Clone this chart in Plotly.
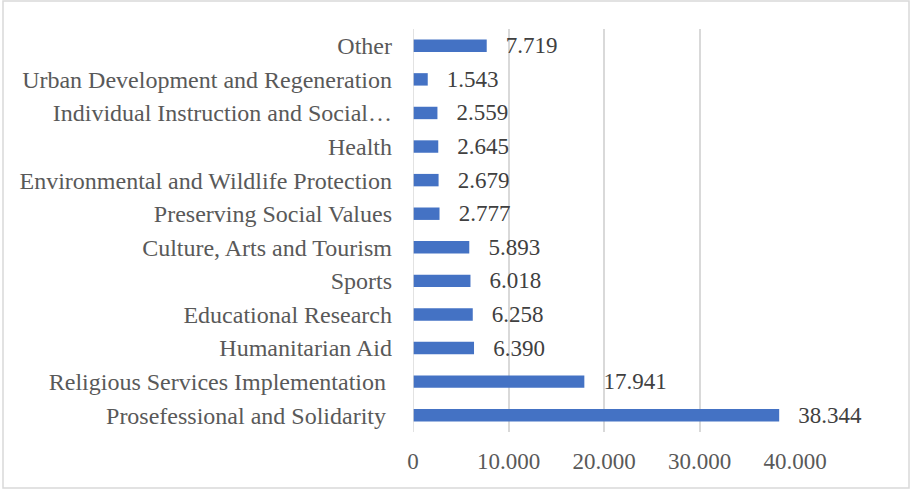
import plotly.graph_objects as go

# Categories listed bottom to top
categories = [
    "Prosefessional and Solidarity ",
    "Religious Services Implementation ",
    "Humanitarian Aid",
    "Educational Research",
    "Sports",
    "Culture, Arts and Tourism",
    "Preserving Social Values",
    "Environmental and Wildlife Protection",
    "Health",
    "Individual Instruction and Social…",
    "Urban Development and Regeneration",
    "Other",
]
values = [38344, 17941, 6390, 6258, 6018, 5893, 2777, 2679, 2645, 2559, 1543, 7719]
x_ticks = [0, 10000, 20000, 30000, 40000]

W, H = 915, 491
L, R, T, B = 413, 120, 29, 59
FONT = "Liberation Serif"
GREY = "#595959"

fig = go.Figure(
    go.Bar(
        x=values,
        y=categories,
        orientation="h",
        marker=dict(color="#4472C4", line=dict(width=0)),
        width=0.37,
        texttemplate="  \u2009%{x:,}",
        textposition="outside",
        constraintext="none",
        cliponaxis=False,
        textfont=dict(family=FONT, size=23, color="#404040"),
        hoverinfo="skip",
    )
)

pw = W - L - R
ph = H - T - B


def px_x(p):
    return (p - L) / pw


def px_y(p):
    return (H - B - p) / ph


# Outer chart border
fig.add_shape(
    type="rect",
    xref="paper", yref="paper",
    x0=px_x(3), x1=px_x(909),
    y0=px_y(488), y1=px_y(1),
    line=dict(color="#D9D9D9", width=1.5),
)

fig.update_layout(
    width=W, height=H,
    margin=dict(l=L, r=R, t=T, b=B, pad=0),
    plot_bgcolor="white", paper_bgcolor="white",
    separators=",.",
    showlegend=False,
    font=dict(family=FONT, size=23, color=GREY),
    xaxis=dict(
        range=[0, 40000],
        tickvals=x_ticks,
        tickformat=",",
        showgrid=True,
        gridcolor="#D9D9D9",
        gridwidth=1.5,
        zeroline=False,
        showline=False,
        ticks="",
        ticklabelstandoff=13,
        tickfont=dict(family=FONT, size=23, color=GREY),
    ),
    yaxis=dict(
        showgrid=False,
        zeroline=False,
        showline=False,
        ticks="",
        ticklabelstandoff=20,
        tickfont=dict(family=FONT, size=24, color=GREY),
        range=[-0.5, len(categories) - 0.5],
    ),
)
# Vertical baseline at zero
fig.add_shape(type="line", xref="x", yref="paper", x0=0, x1=0, y0=0, y1=1,
              line=dict(color="#D9D9D9", width=1.5))

fig.write_html("out.html")
